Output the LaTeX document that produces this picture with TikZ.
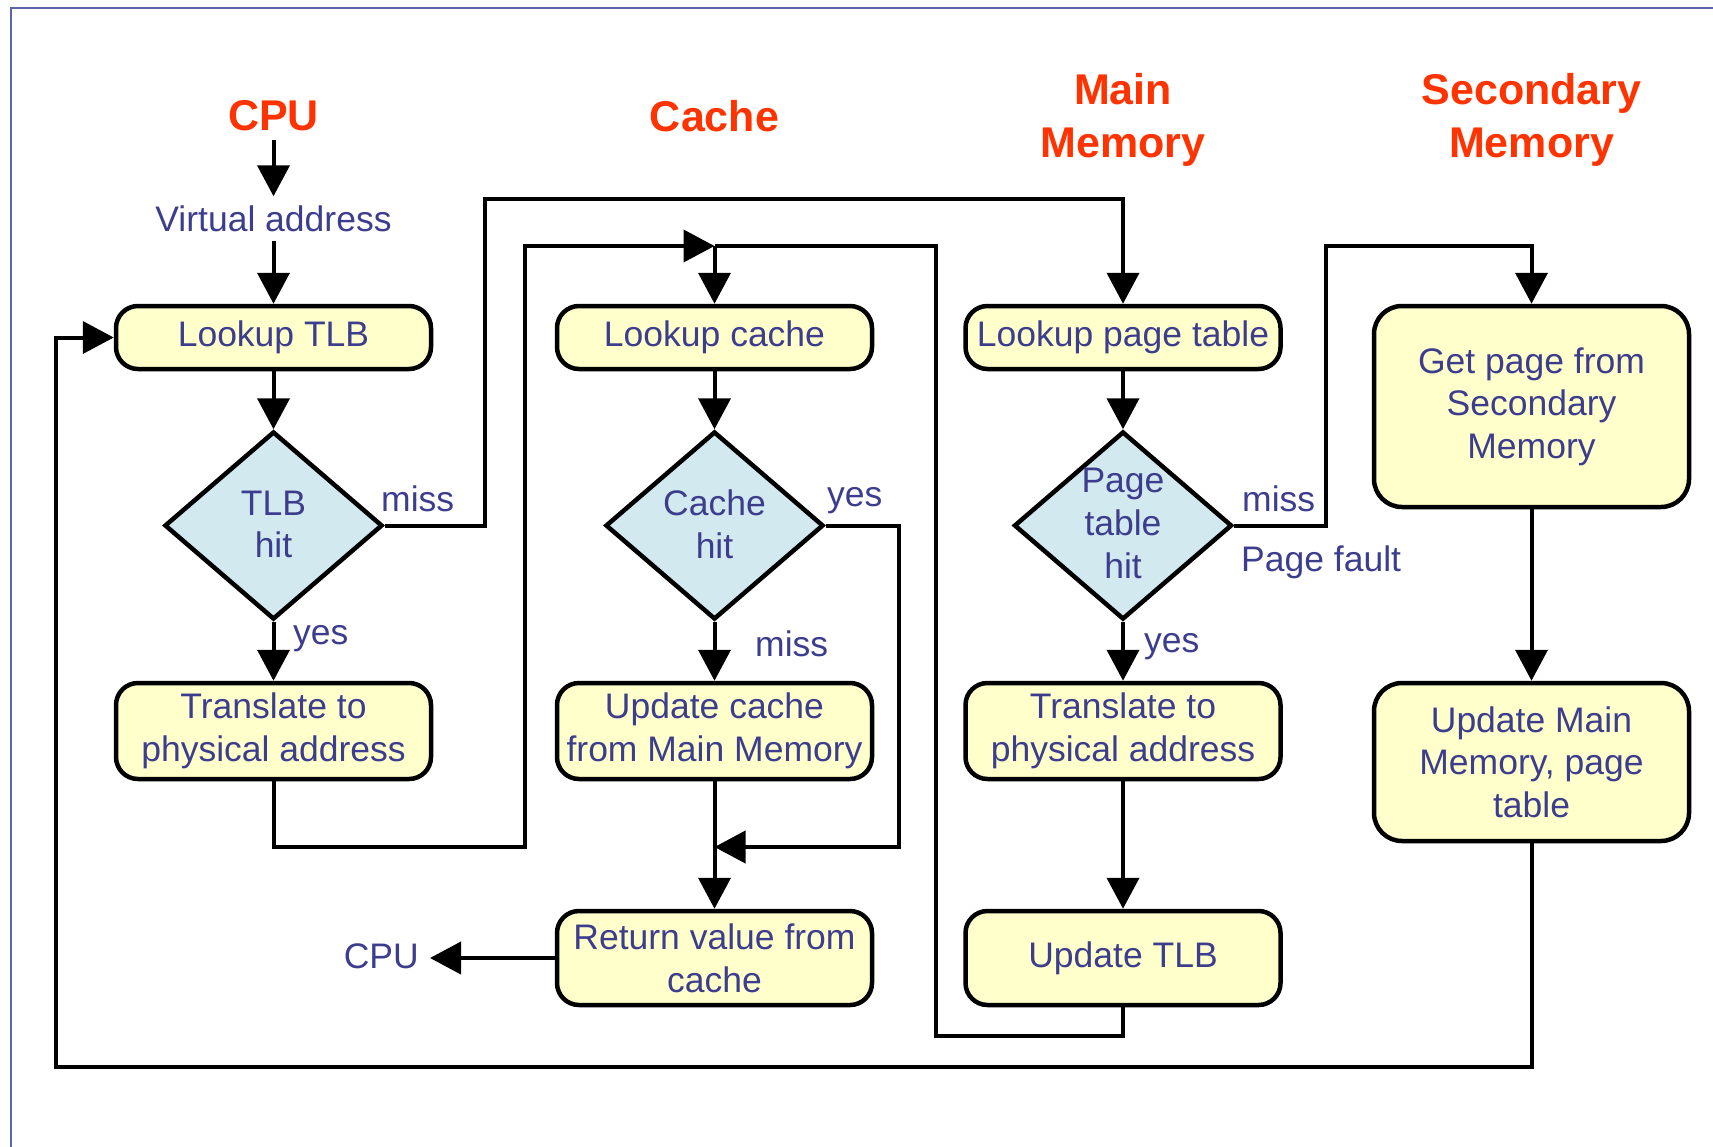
\documentclass[tikz,border=0pt]{standalone}
\usepackage{fontspec}
\setmainfont{Liberation Sans}
\usetikzlibrary{arrows.meta,shapes.geometric}
\definecolor{txtc}{HTML}{3D3D8E}
\definecolor{ttlc}{HTML}{FF3300}
\definecolor{boxc}{HTML}{FFFFCC}
\definecolor{diac}{HTML}{D1E9EF}
\definecolor{framec}{HTML}{5E64A8}
\newcommand\myBody{\fontsize{35.5}{42.6}\selectfont}
\newcommand\myTitle{\fontsize{43}{53}\selectfont\bfseries}
\begin{document}
\begin{tikzpicture}[x=1pt,y=-1pt,
  box/.style={draw=black, line width=4.5pt, fill=boxc, rounded corners=22pt,
    minimum width=315pt, text=txtc, font=\myBody, align=center, inner sep=0pt},
  dia/.style={shape=diamond, draw=black, line width=4.5pt, fill=diac,
    minimum width=218pt, minimum height=188pt, inner sep=0pt},
  dtext/.style={text=txtc, font=\myBody, align=center, inner sep=0pt},
  ttl/.style={text=ttlc, font=\myTitle, align=center, inner sep=9pt},
  lbl/.style={text=txtc, font=\myBody, inner sep=0pt, anchor=base west},
  arr/.style={line width=4pt, -{Triangle[length=31pt,width=32pt]}},
  conn/.style={line width=4pt}
]
\useasboundingbox (0,0) rectangle (1713,1146);
\draw[framec, line width=2pt] (11,1150) -- (11,8) -- (1716,8);

% titles
\node[ttl] (t1) at (273.5,116) {CPU};
\node[ttl] (t2) at (714.5,116) {Cache};
\node[ttl] (t3) at (1123,120) {Main\\Memory};
\node[ttl] (t4) at (1531.5,120) {Secondary\\Memory};
\node[dtext, inner sep=9pt] (va) at (273.5,218.5) {Virtual address};

% boxes
\node[box, minimum height=63pt] (ltlb) at (273.5,337.5) {\raisebox{-1pt}{Lookup TLB}};
\node[box, minimum height=63pt] (lc) at (714.5,337.5) {\raisebox{-1pt}{Lookup cache}};
\node[box, minimum height=63pt] (lpt) at (1123,337.5) {\raisebox{-1pt}{Lookup page table}};
\node[box, minimum height=201pt, rounded corners=28pt] (gp) at (1531.5,406.5) {Get page from\\Secondary\\Memory};
\node[box, minimum height=96pt] (ttlb) at (273.5,731) {Translate to\\physical address};
\node[box, minimum height=96pt] (uc) at (714.5,731) {Update cache\\from Main Memory};
\node[box, minimum height=96pt] (tmm) at (1123,731) {Translate to\\physical address};
\node[box, minimum height=158pt, rounded corners=28pt] (umm) at (1531.5,762) {Update Main\\Memory, page\\table};
\node[box, minimum height=94pt] (ret) at (714.5,958) {Return value from\\cache};
\node[box, minimum height=94pt] (utlb) at (1123,958) {Update TLB};

% diamonds
\node[dia] (tlbhit) at (273.5,525.5) {};
\node[dtext] (tlbhitt) at (273.5,524.5) {TLB\\hit};
\node[dia] (chit) at (714.5,525.5) {};
\node[dtext] (chitt) at (714.5,524.5) {Cache\\hit};
\node[dia] (pthit) at (1123,525.5) {};
\node[dtext] (pthitt) at (1123,523.5) {Page\\table\\hit};

% labels
\node[lbl] (l1) at (381,511) {miss};
\node[lbl] (l2) at (293,644) {yes};
\node[lbl] (l3) at (827,506) {yes};
\node[lbl] (l4) at (755,656) {miss};
\node[lbl] (l5) at (1242,511) {miss};
\node[lbl] (l6) at (1241,571) {Page fault};
\node[lbl] (l7) at (1144,652) {yes};
\node[text=txtc, font=\myBody, inner xsep=11pt, inner ysep=0pt, anchor=east] (cpuret) at (430,956) {CPU};

% coordinates
\coordinate (a1) at (485,199);
\coordinate (a2) at (525,847);
\coordinate (j1) at (714.5,246);
\coordinate (a3) at (936,1036);
\coordinate (a4) at (899,847);
\coordinate (j2) at (714.5,847);
\coordinate (a5) at (1326,246);
\coordinate (a6) at (56,1067);

% connectors
\draw[arr] (t1.south) -- (va.north);
\draw[arr] (va.south) -- (ltlb.north);
\draw[arr] (ltlb.south) -- (tlbhit.north);
\draw[arr] (tlbhit.south) -- (ttlb.north);
\draw[arr] (tlbhit.east) -| (a1) -| (lpt.north);
\draw[arr] (ttlb.south) |- (a2) |- (j1);
\draw[conn] (utlb.south) |- (a3) |- (j1);
\draw[arr] (j1) -- (lc.north);
\draw[arr] (lc.south) -- (chit.north);
\draw[arr] (chit.south) -- (uc.north);
\draw[arr] (chit.east) -| (a4) -- (j2);
\draw[arr] (uc.south) -- (ret.north);
\draw[arr] (ret.west) -- (ret.west -| cpuret.east);
\draw[arr] (lpt.south) -- (pthit.north);
\draw[arr] (pthit.south) -- (tmm.north);
\draw[arr] (tmm.south) -- (utlb.north);
\draw[arr] (pthit.east) -| (a5) -| (gp.north);
\draw[arr] (gp.south) -- (umm.north);
\draw[arr] (umm.south) |- (a6) |- (ltlb.west);
\end{tikzpicture}
\end{document}
